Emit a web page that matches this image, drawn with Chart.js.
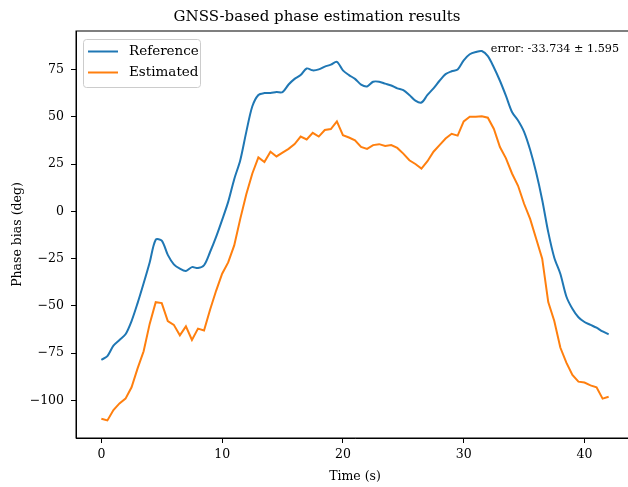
<!DOCTYPE html>
<html>
<head>
<meta charset="utf-8">
<script src="https://cdn.jsdelivr.net/npm/chart.js@4.4.1/dist/chart.umd.min.js"></script>
<style>
    body { margin: 0; overflow: hidden; background: #fff; }
    #wrap { width: 640px; height: 487px; }
</style>
</head>
<body>
<div id="wrap"><canvas id="phaseChart"></canvas></div>
<script>
// values, one sample every 0.5 s from 0 to 42 s
let sampleStep = 0.5;
let referencePhase = [
    -78.5, -76.5, -71, -68, -65, -58, -48.5, -38, -27, -15,
    -15.5, -23, -28, -30.3, -31.5, -29.5, -30, -28.5, -21.5, -13.5,
    -4.5, 5, 17, 27, 42, 55.5, 61.5, 62.5, 62.5, 63,
    63, 67, 70, 72, 75.5, 74.5, 75, 76.5, 77.5, 79,
    74.5, 72, 70, 67, 66, 68.5, 68.5, 67.5, 66.5, 65,
    64, 61.5, 58.5, 57.5, 61.5, 65, 69, 72.5, 74, 75,
    79.8, 83, 84.2, 84.7, 82, 76, 69, 61, 52.5, 48,
    42, 32.5, 20.5, 6, -11, -24.5, -33, -45, -51.5, -56,
    -58.5, -60, -61.5, -63.5, -65
];
let estimatedPhase = [
    -109.6, -110.5, -105, -101.5, -99, -93, -83, -74, -59.5, -48,
    -48.5, -58, -60, -65.5, -60.8, -68, -62, -63, -52, -42,
    -33, -27, -18, -4, 9, 20, 28.5, 26, 31.5, 29,
    31, 33, 35.5, 39.5, 38, 41.5, 39.5, 43, 43.5, 47.5,
    40.2, 39, 37.5, 34, 33, 35, 35.5, 34.5, 35, 33.5,
    30.5, 27, 25, 22.6, 26.5, 31.5, 35, 38.5, 41, 40,
    47.5, 50, 50, 50.2, 49.5, 43.5, 34, 28, 20, 13.5,
    4, -4, -14.5, -25, -48, -58, -72, -80, -86.5, -90,
    -90.5, -92, -93, -99, -98
];
let xTicks = [0, 10, 20, 30, 40];
let yTicks = [-100, -75, -50, -25, 0, 25, 50, 75];
let errorText = "error: -33.734 \u00b1 1.595";

let serif = "'DejaVu Serif', serif";

function toPoints(values) {
    return values.map(function (v, i) {
        return { x: i * sampleStep, y: v };
    });
}

// box around the plot + legend + error note, matplotlib style
let framePlugin = {
    id: "framePlugin",
    afterDraw: function (chart) {
        let ctx = chart.ctx;
        let area = chart.chartArea;
        ctx.save();
        ctx.strokeStyle = "#000";
        ctx.lineWidth = 1;
        ctx.strokeRect(area.left, area.top, area.right - area.left, area.bottom - area.top);

        // legend
        let bx = 83.5, by = 39.5, bw = 117, bh = 48, r = 3;
        ctx.fillStyle = "rgba(255,255,255,0.8)";
        ctx.strokeStyle = "#cccccc";
        ctx.beginPath();
        ctx.roundRect(bx, by, bw, bh, r);
        ctx.fill();
        ctx.stroke();
        ctx.font = "13.5px " + serif;
        ctx.textBaseline = "middle";
        ctx.textAlign = "left";
        chart.data.datasets.forEach(function (ds, i) {
            let y = 51.5 + i * 21;
            ctx.strokeStyle = ds.borderColor;
            ctx.lineWidth = 2;
            ctx.beginPath();
            ctx.moveTo(88, y);
            ctx.lineTo(118, y);
            ctx.stroke();
            ctx.fillStyle = "#000";
            ctx.fillText(ds.label, 129, y);
        });

        // error note
        ctx.font = "11.2px " + serif;
        ctx.textAlign = "right";
        ctx.fillText(errorText, 619, 49);
        ctx.restore();
    },
};

let ctx = document.getElementById("phaseChart").getContext("2d");
new Chart(ctx, {
    type: "line",
    data: {
        datasets: [
            {
                label: "Reference",
                data: toPoints(referencePhase),
                borderColor: "#1f77b4",
                borderWidth: 2,
                pointRadius: 0,
                tension: 0.3,
            },
            {
                label: "Estimated",
                data: toPoints(estimatedPhase),
                borderColor: "#ff7f0e",
                borderWidth: 2,
                pointRadius: 0,
                tension: 0,
            },
        ],
    },
    options: {
        responsive: true,
        maintainAspectRatio: false,
        animation: false,
        layout: { padding: { left: 0, right: 6, top: 0, bottom: 0 } },
        plugins: {
            legend: { display: false },
            tooltip: { enabled: false },
            title: {
                display: true,
                text: "GNSS-based phase estimation results",
                color: "#000",
                font: { family: serif, size: 15, weight: "normal" },
                padding: { top: 8, bottom: 5 },
            },
        },
        scales: {
            x: {
                type: "linear",
                min: -2.1,
                max: 44.1,
                afterBuildTicks: function (scale) {
                    scale.ticks = xTicks.map(function (v) { return { value: v }; });
                },
                afterFit: function (scale) {
                    scale.height = 49;
                },
                ticks: {
                    color: "#000",
                    font: { family: serif, size: 12.5 },
                    padding: 4,
                    maxRotation: 0,
                    autoSkip: false,
                },
                grid: {
                    drawOnChartArea: false,
                    drawTicks: true,
                    tickLength: 5,
                    tickColor: "#000",
                },
                border: { display: true, color: "#000", width: 1 },
                title: {
                    display: true,
                    text: "Time (s)",
                    color: "#000",
                    font: { family: serif, size: 12.5 },
                    padding: { top: 0, bottom: 3 },
                },
            },
            y: {
                type: "linear",
                min: -119.8,
                max: 95.3,
                afterBuildTicks: function (scale) {
                    scale.ticks = yTicks.map(function (v) { return { value: v }; });
                },
                afterFit: function (scale) {
                    scale.width = 76;
                },
                ticks: {
                    color: "#000",
                    font: { family: serif, size: 12.5 },
                    padding: 7,
                    autoSkip: false,
                    callback: function (v) {
                        return v < 0 ? "\u2212" + Math.abs(v) : String(v);
                    },
                },
                grid: {
                    drawOnChartArea: false,
                    drawTicks: true,
                    tickLength: 5,
                    tickColor: "#000",
                },
                border: { display: true, color: "#000", width: 1 },
                title: {
                    display: true,
                    text: "Phase bias (deg)",
                    color: "#000",
                    font: { family: serif, size: 12.5 },
                    padding: { top: 10, bottom: 0 },
                },
            },
        },
    },
    plugins: [framePlugin],
});
</script>
</body>
</html>
